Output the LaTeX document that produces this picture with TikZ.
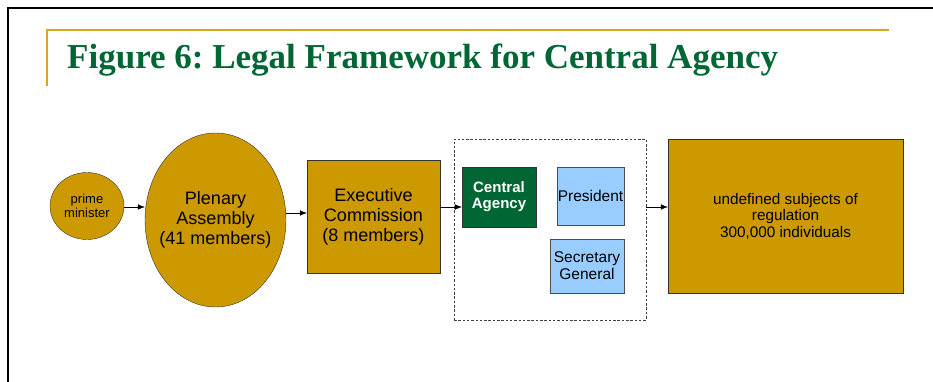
\documentclass[tikz,border=0pt]{standalone}
\usepackage{fontspec}
\setmainfont{Liberation Serif}
\setsansfont{Liberation Sans}
\usepackage{tikz}
\usetikzlibrary{shapes.geometric,arrows.meta}
\usepackage{xcolor}
\definecolor{agencygreen}{RGB}{0,102,51}
\definecolor{mustard}{RGB}{204,153,0}
\definecolor{paleblue}{RGB}{153,204,255}
\definecolor{rulegold}{RGB}{218,165,32}

\begin{document}
\begin{tikzpicture}[x=1pt,y=-1pt]
  \tikzset{body/.style={draw=black!80,fill=mustard,align=center,inner sep=0pt,font=\sffamily}}
  \tikzset{oval/.style={body,ellipse,inner sep=-12pt}}
  \tikzset{office/.style={draw=black!70,fill=paleblue,align=center,inner sep=0pt,font=\sffamily\fontsize{15.5}{17}\selectfont}}
  \tikzset{transition/.style={-{Latex[length=7pt,width=5.5pt]},thin}}
  \useasboundingbox (0,0) rectangle (933,382);
  \draw[line width=2.5pt] (8,382) -- (8,8) -- (933,8);
  \draw[rulegold,line width=1.8pt] (47,86) -- (47,30) -- (889,30);
  \node[anchor=base west,text=agencygreen,font=\bfseries\fontsize{35}{40}\selectfont,inner sep=0pt] (title) at (67,69) {\frenchspacing Figure 6: Legal Framework for Central Agency};
  \node[oval,minimum width=74,minimum height=67,font=\sffamily\fontsize{13}{14}\selectfont] (pm) at (87,206) {prime\\minister};
  \node[oval,minimum width=141,minimum height=174,font=\sffamily\fontsize{18}{20}\selectfont] (plenary) at (215.5,220) {Plenary\\Assembly\\(41 members)};
  \node[body,minimum width=133,minimum height=113,font=\sffamily\fontsize{18}{20}\selectfont] (exec) at (373.5,216.5) {Executive\\Commission\\(8 members)};
  \node[draw=black!75,dashed,dash pattern=on 2.5pt off 1.8pt,minimum width=192,minimum height=181] (group) at (550,229.5) {};
  \node[draw=black!80,fill=agencygreen,text=white,align=center,inner sep=0pt,minimum width=74,minimum height=60,font=\sffamily\bfseries\fontsize{15}{16}\selectfont] (agency) at (499,197) {Central\\Agency};
  \node[office,minimum width=67,minimum height=58] (president) at (590.5,196) {President};
  \node[office,minimum width=74,minimum height=54] (secretary) at (587,266) {Secretary\\General};
  \node[body,minimum width=235,minimum height=154,font=\sffamily\fontsize{15.3}{16.5}\selectfont] (subjects) at (785.5,216) {undefined subjects of\\regulation\\300,000 individuals};
  \draw[transition] (pm.east |- 0,207) -- (plenary.west |- 0,207);
  \draw[transition] (plenary.east |- 0,213) -- (exec.west |- 0,213);
  \draw[transition] (exec.east |- 0,207) -- (agency.west |- 0,207);
  \draw[transition] (group.east |- 0,207) -- (subjects.west |- 0,207);
\end{tikzpicture}
\end{document}
